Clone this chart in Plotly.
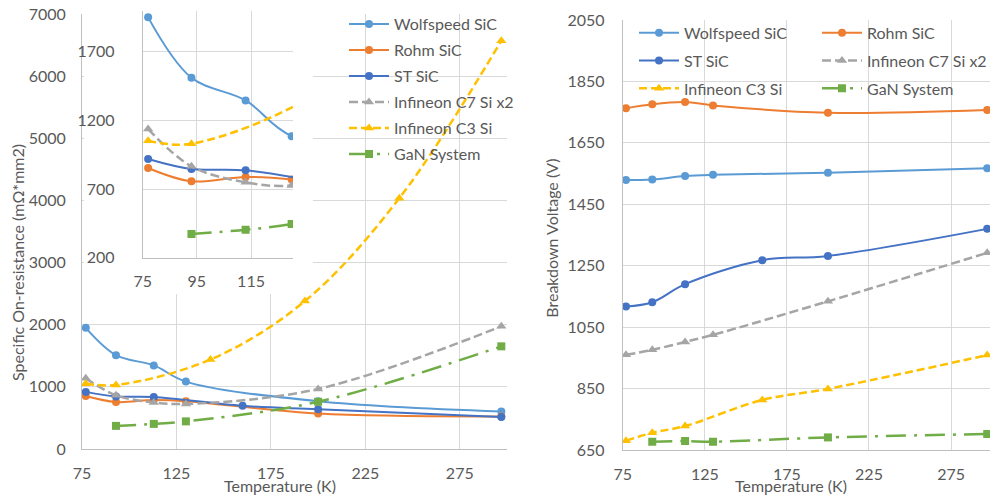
import plotly.graph_objects as go

# ---------------- data: specific on-resistance (left) ----------------
T_ws = [77, 93, 113, 130, 200, 297]
R_ws = [1950, 1510, 1345, 1085, 770, 605]
T_rohm = [77, 93, 113, 130, 200, 297]
R_rohm = [853, 756, 788, 770, 570, 525]
T_st = [77, 93, 113, 160, 200, 297]
R_st = [919, 846, 836, 695, 640, 515]
T_c7 = [77, 93, 113, 130, 200, 297]
R_c7 = [1137, 865, 749, 725, 966, 1974]
T_c3 = [77, 93, 143, 193, 243, 297]
R_c3 = [1052, 1030, 1440, 2380, 4036, 6570]
T_gan = [93, 113, 130, 200, 297]
R_gan = [372, 404, 445, 760, 1652]

# ---------------- data: breakdown voltage (right) ----------------
TB_ws = [77, 93, 113, 130, 200, 297]
BV_ws = [1529, 1531, 1542, 1546, 1553, 1567]
TB_rohm = [77, 93, 113, 130, 200, 297]
BV_rohm = [1763, 1776, 1783, 1772, 1748, 1757]
TB_st = [77, 93, 113, 160, 200, 297]
BV_st = [1117, 1131, 1190, 1268, 1282, 1370]
TB_c7 = [77, 93, 113, 130, 200, 297]
BV_c7 = [960, 976, 1002, 1025, 1134, 1292]
TB_c3 = [77, 93, 113, 160, 200, 297]
BV_c3 = [680, 706, 728, 813, 849, 959]
TB_gan = [93, 113, 130, 200, 297]
BV_gan = [677, 679, 677, 691, 702]

names = ["Wolfspeed SiC", "Rohm SiC", "ST SiC", "Infineon C7 Si x2", "Infineon C3 Si", "GaN System"]

W, H = 990, 496
FONT = "Lato"
TXT = "#595959"
GRID = "#D9D9D9"
LINE = "#BFBFBF"

styles = {
    "Wolfspeed SiC": dict(color="#5B9BD5", dash="solid", symbol="circle", size=8, width=2),
    "Rohm SiC": dict(color="#ED7D31", dash="solid", symbol="circle", size=8, width=2),
    "ST SiC": dict(color="#4472C4", dash="solid", symbol="circle", size=8, width=2),
    "Infineon C7 Si x2": dict(color="#A5A5A5", dash="9px,4px", symbol="triangle-up", size=9, width=2.5),
    "Infineon C3 Si": dict(color="#FFC000", dash="8px,4px", symbol="triangle-up", size=9, width=2.5),
    "GaN System": dict(color="#70AD47", dash="20px,8px,3px,8px", symbol="square", size=8, width=2.5),
}

left = {
    "Wolfspeed SiC": (T_ws, R_ws),
    "Rohm SiC": (T_rohm, R_rohm),
    "ST SiC": (T_st, R_st),
    "Infineon C7 Si x2": (T_c7, R_c7),
    "Infineon C3 Si": (T_c3, R_c3),
    "GaN System": (T_gan, R_gan),
}
right = {
    "Wolfspeed SiC": (TB_ws, BV_ws),
    "Rohm SiC": (TB_rohm, BV_rohm),
    "ST SiC": (TB_st, BV_st),
    "Infineon C7 Si x2": (TB_c7, BV_c7),
    "Infineon C3 Si": (TB_c3, BV_c3),
    "GaN System": (TB_gan, BV_gan),
}
right_legend = {
    "Wolfspeed SiC": "legend2", "ST SiC": "legend2", "Infineon C3 Si": "legend2",
    "Rohm SiC": "legend3", "Infineon C7 Si x2": "legend3", "GaN System": "legend3",
}


def trace(name, x, y, xa, ya, showlegend, legend="legend"):
    s = styles[name]
    return go.Scatter(
        x=x, y=y, name=name, mode="lines+markers",
        xaxis=xa, yaxis=ya, legend=legend, legendgroup=name,
        showlegend=showlegend,
        line=dict(color=s["color"], dash=s["dash"], width=s["width"], shape="spline"),
        marker=dict(color=s["color"], symbol=s["symbol"], size=s["size"]),
    )


fig = go.Figure()
# main left chart (x, y)
for n in names:
    x, y = left[n]
    fig.add_trace(trace(n, x, y, "x", "y", True))
# right chart (x2, y2)
for n in names:
    x, y = right[n]
    fig.add_trace(trace(n, x, y, "x2", "y2", True, right_legend[n]))
# blank white panel behind the inset (x3, y3): its own background hides the main grid
fig.add_trace(go.Scatter(x=[None], y=[None], xaxis="x3", yaxis="y3", mode="lines",
                         showlegend=False, hoverinfo="skip"))
# inset (x4, y4)
for n in names:
    x, y = left[n]
    fig.add_trace(trace(n, x, y, "x4", "y4", False))


def px_x(p):
    return p / W


def px_y(p):
    return 1 - p / H


tickfont = dict(family=FONT, size=16, color=TXT)
common = dict(showgrid=True, gridcolor=GRID, gridwidth=1, showline=True, linecolor=LINE,
              linewidth=1, ticks="", tickfont=tickfont, zeroline=False, fixedrange=True)

legfont = dict(family=FONT, size=16, color=TXT)
legcommon = dict(xanchor="left", yanchor="top", bgcolor="rgba(0,0,0,0)", font=legfont,
                 traceorder="grouped", itemwidth=40)
fig.update_layout(
    width=W, height=H,
    margin=dict(l=0, r=0, t=0, b=0, autoexpand=False),
    paper_bgcolor="white", plot_bgcolor="white",
    font=dict(family=FONT, size=16, color=TXT),
    xaxis=dict(domain=[px_x(82), px_x(507)], range=[75, 300], tick0=75, dtick=50,
               anchor="y", ticklabelstandoff=10, **common),
    yaxis=dict(domain=[px_y(449), px_y(14)], range=[0, 7000], dtick=1000,
               anchor="x", ticklabelstandoff=12, **common),
    xaxis2=dict(domain=[px_x(622.7), 1.0], range=[75, 298.7], tick0=75, dtick=50,
                anchor="y2", ticklabelstandoff=10, **common),
    yaxis2=dict(domain=[px_y(450), px_y(20)], range=[650, 2050], tick0=650, dtick=200,
                anchor="x2", ticklabelstandoff=14, **common),
    xaxis3=dict(domain=[px_x(84), px_x(313)], range=[0, 1], anchor="y3", visible=False,
                showgrid=False, zeroline=False, fixedrange=True),
    yaxis3=dict(domain=[px_y(294), 1.0], range=[0, 1], anchor="x3", visible=False,
                showgrid=False, zeroline=False, fixedrange=True),
    xaxis4=dict(domain=[px_x(142.7), px_x(293)], range=[75, 130.5], tick0=75, dtick=20,
                anchor="y4", ticklabelstandoff=9, **common),
    yaxis4=dict(domain=[px_y(257.7), px_y(10.5)], range=[200, 2000], tick0=200, dtick=500,
                anchor="x4", ticklabelstandoff=24, **common),
    showlegend=True,
    legend=dict(x=px_x(344), y=px_y(7.2), tracegroupgap=2.2, **legcommon),
    legend2=dict(x=px_x(634), y=px_y(15.8), tracegroupgap=4, **legcommon),
    legend3=dict(x=px_x(817), y=px_y(15.8), tracegroupgap=4, **legcommon),
)

titlefont = dict(family=FONT, size=16, color=TXT)
ann = dict(xref="paper", yref="paper", showarrow=False, font=titlefont,
           xanchor="center", yanchor="middle")
fig.add_annotation(text="Specific On-resistance (mΩ*mm2)", x=px_x(17), y=px_y(263),
                   textangle=-90, **ann)
fig.add_annotation(text="Temperature (K)", x=px_x(280), y=px_y(485), **ann)
fig.add_annotation(text="Breakdown Voltage (V)", x=px_x(550.7), y=px_y(238),
                   textangle=-90, **ann)
fig.add_annotation(text="Temperature (K)", x=px_x(791), y=px_y(485), **ann)

fig.write_html("out.html")
